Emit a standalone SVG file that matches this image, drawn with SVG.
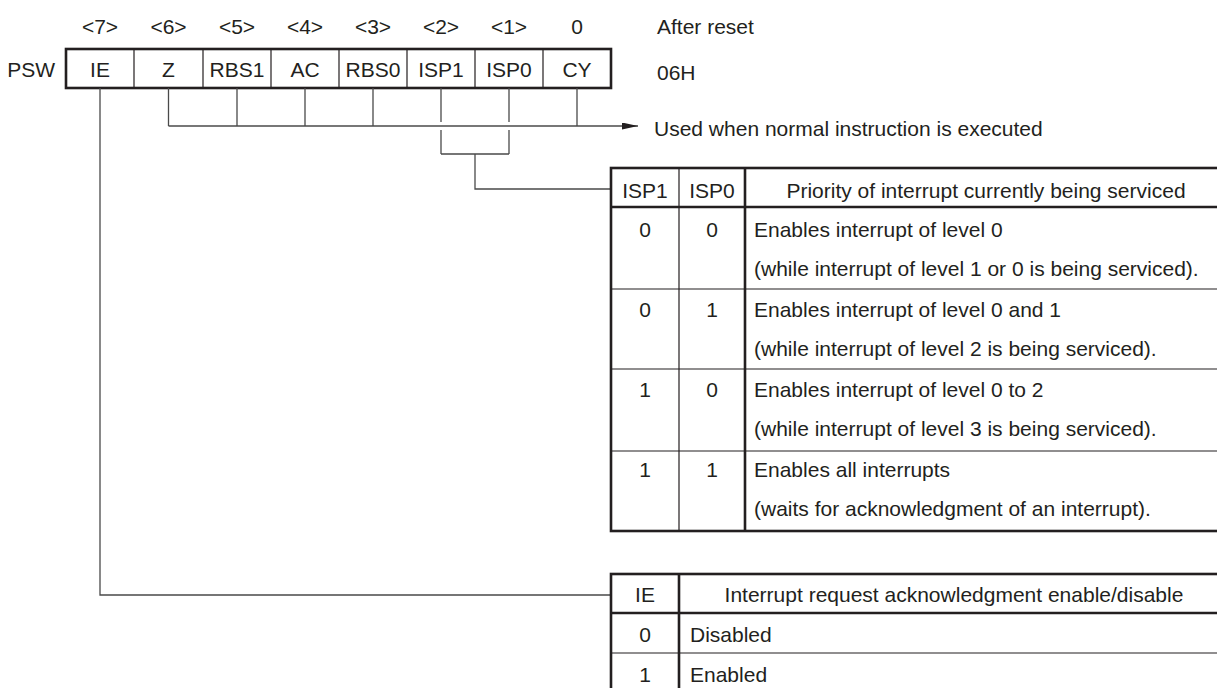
<svg xmlns="http://www.w3.org/2000/svg" width="1217" height="688" viewBox="0 0 1217 688">
<style>
text{font-family:"Liberation Sans",Arial,sans-serif;font-size:21px;fill:#231f20}
.c{text-anchor:middle}
.e{text-anchor:end}
.thick{stroke:#231f20;stroke-width:2.6;fill:none}
.thin{stroke:#231f20;stroke-width:1.2;fill:none}
.conn{stroke:#4a4a4a;stroke-width:1.3;fill:none}
</style>
<defs>
<marker id="arr" markerWidth="16" markerHeight="7" refX="16" refY="3.5" orient="auto" markerUnits="userSpaceOnUse">
<path d="M0,0 L16,3.5 L0,7 Z" fill="#231f20"/>
</marker>
</defs>
<rect width="1217" height="688" fill="#fff"/>

<g id="bit-numbers">
<text class="c" x="100" y="34">&lt;7&gt;</text>
<text class="c" x="168.5" y="34">&lt;6&gt;</text>
<text class="c" x="237" y="34">&lt;5&gt;</text>
<text class="c" x="305" y="34">&lt;4&gt;</text>
<text class="c" x="373" y="34">&lt;3&gt;</text>
<text class="c" x="441" y="34">&lt;2&gt;</text>
<text class="c" x="509" y="34">&lt;1&gt;</text>
<text class="c" x="577" y="34">0</text>
<text x="657" y="34">After reset</text>
</g>

<g id="psw-register">
<text class="e" x="55" y="77">PSW</text>
<path class="thin" d="M134,49V88M203,49V88M271,49V88M339,49V88M407,49V88M475,49V88M543,49V88"/>
<rect class="thick" x="66" y="49" width="545" height="39"/>
<text class="c" x="100" y="77">IE</text>
<text class="c" x="168.5" y="77">Z</text>
<text class="c" x="237" y="77">RBS1</text>
<text class="c" x="305" y="77">AC</text>
<text class="c" x="373" y="77">RBS0</text>
<text class="c" x="441" y="77">ISP1</text>
<text class="c" x="509" y="77">ISP0</text>
<text class="c" x="577" y="77">CY</text>
<text x="657" y="80">06H</text>
</g>

<g id="connectors">
<path class="conn" d="M168.5,88V126M237,88V126M305,88V126M373,88V126M577,88V126"/>
<path class="conn" d="M168.5,126H638" marker-end="url(#arr)"/>
<path class="conn" d="M441,88V122M441,130V154M509,88V122M509,130V154M441,154H509"/>
<path class="conn" d="M475,154V189H611"/>
<path class="conn" d="M100,88V595H611"/>
</g>

<g id="normal-label">
<text x="654" y="136">Used when normal instruction is executed</text>
</g>

<g id="isp-table">
<path class="thin" d="M611,289H1230M611,369H1230M611,451H1230M679,168V531"/>
<path class="thick" d="M611,207H1230M745,168V531"/>
<rect class="thick" x="611" y="168" width="619" height="363"/>
<text class="c" x="645" y="198">ISP1</text>
<text class="c" x="712" y="198">ISP0</text>
<text class="c" x="986" y="198">Priority of interrupt currently being serviced</text>
<text class="c" x="645" y="237">0</text>
<text class="c" x="712" y="237">0</text>
<text x="754" y="237">Enables interrupt of level 0</text>
<text x="754" y="276">(while interrupt of level 1 or 0 is being serviced).</text>
<text class="c" x="645" y="317">0</text>
<text class="c" x="712" y="317">1</text>
<text x="754" y="317">Enables interrupt of level 0 and 1</text>
<text x="754" y="356">(while interrupt of level 2 is being serviced).</text>
<text class="c" x="645" y="397">1</text>
<text class="c" x="712" y="397">0</text>
<text x="754" y="397">Enables interrupt of level 0 to 2</text>
<text x="754" y="436">(while interrupt of level 3 is being serviced).</text>
<text class="c" x="645" y="477">1</text>
<text class="c" x="712" y="477">1</text>
<text x="754" y="477">Enables all interrupts</text>
<text x="754" y="516">(waits for acknowledgment of an interrupt).</text>
</g>

<g id="ie-table">
<path class="thin" d="M611,653H1230"/>
<path class="thick" d="M611,613H1230M679,574V695"/>
<rect class="thick" x="611" y="574" width="619" height="121"/>
<text class="c" x="645" y="602">IE</text>
<text class="c" x="954" y="602">Interrupt request acknowledgment enable/disable</text>
<text class="c" x="645" y="642">0</text>
<text x="690" y="642">Disabled</text>
<text class="c" x="645" y="682">1</text>
<text x="690" y="682">Enabled</text>
</g>
</svg>
